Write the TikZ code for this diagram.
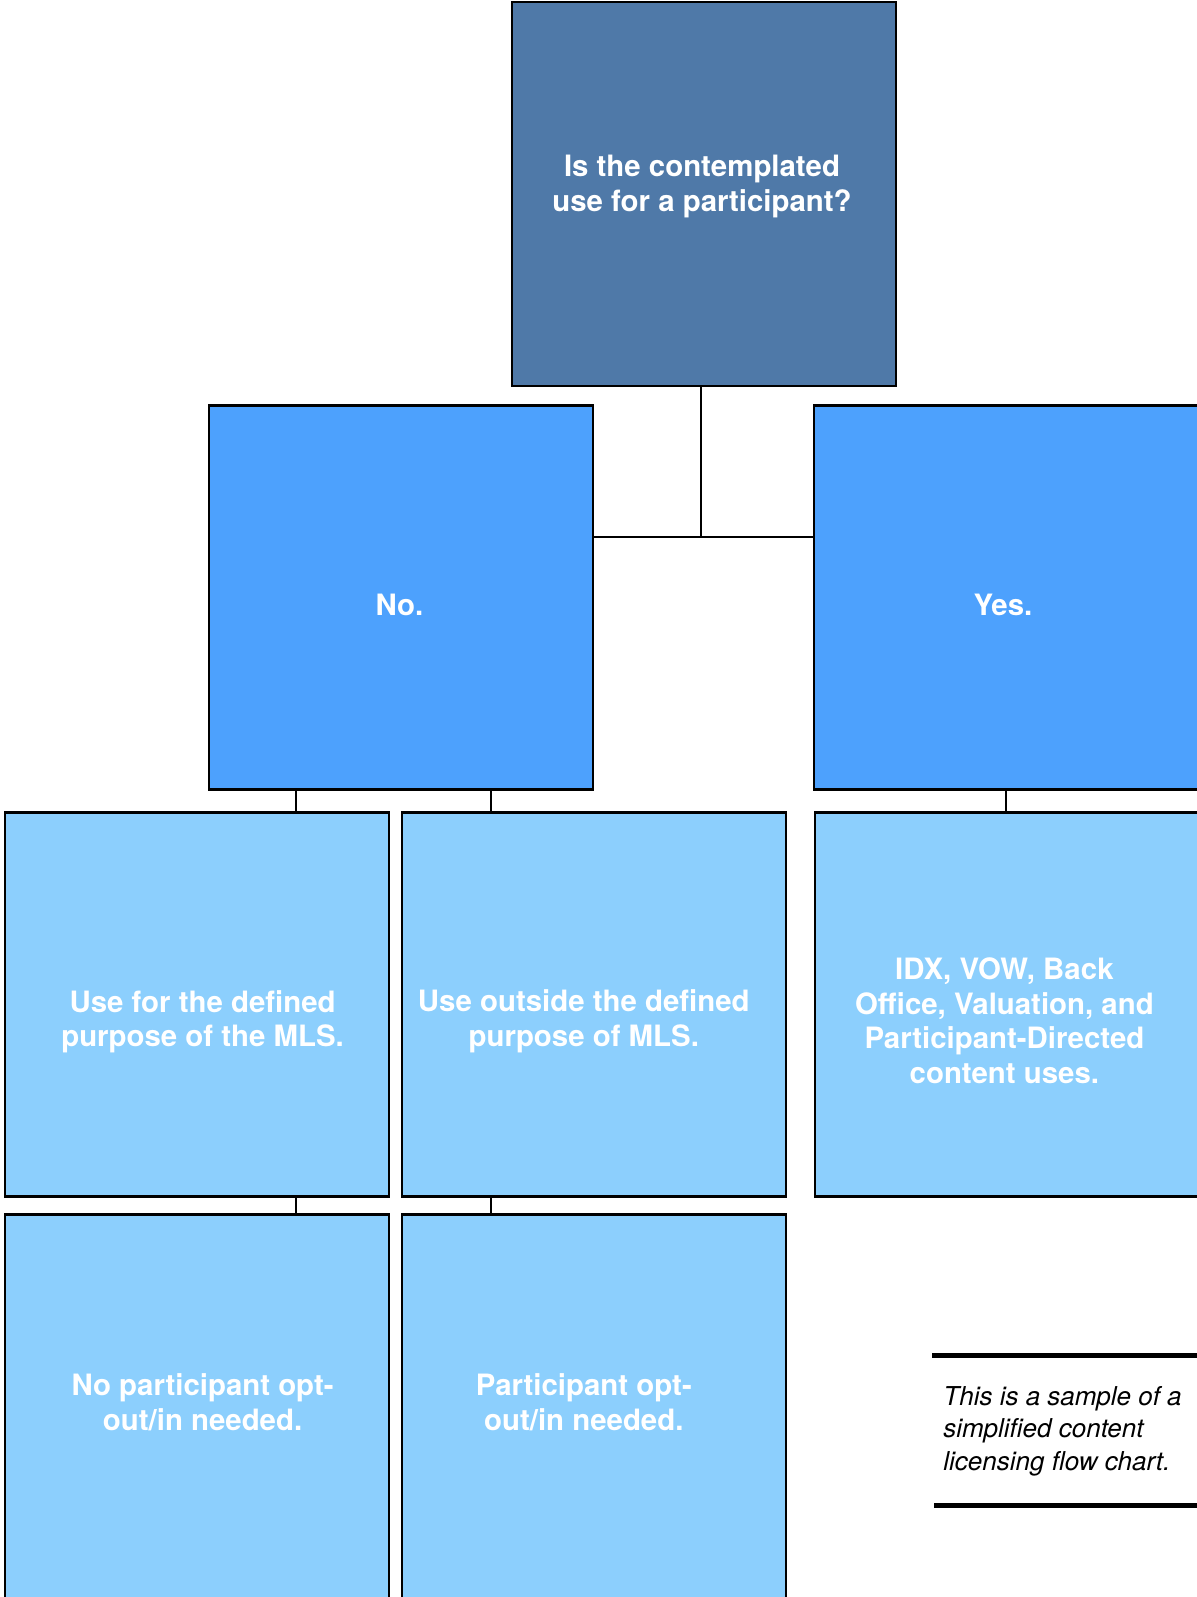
\documentclass[tikz,border=0pt]{standalone}
\usepackage{fontspec}
\setmainfont{TeX Gyre Heros}
\usepackage{tikz}
\usetikzlibrary{positioning, calc}
\definecolor{QuestionBlue}{RGB}{79, 121, 168}
\definecolor{AnswerBlue}{RGB}{77, 161, 253}
\definecolor{CaseBlue}{RGB}{140, 207, 253}

\begin{document}
\begin{tikzpicture}[
    x=0.5pt, y=0.5pt,
    box/.style={rectangle, draw=black, line width=1.4pt, minimum width=192pt, minimum height=192pt, inner sep=0pt, outer sep=0pt},
    boxtext/.style={text=white, align=center, inner sep=0pt, font=\fontsize{14.7}{17.3}\selectfont\bfseries},
    question/.style={box, fill=QuestionBlue},
    answer/.style={box, fill=AnswerBlue},
    case/.style={box, fill=CaseBlue},
    link/.style={line width=1.3pt, color=black},
    notebar/.style={line width=2.5pt, color=black}
]
    \useasboundingbox (0,0) rectangle (1197,1597);
    \clip (0,0) rectangle (1197,1597);

    % Pregunta
    \node[question, label={[boxtext, xshift=-1pt, yshift=3.6pt]center:Is the contemplated\\ use for a participant?}] (question) at (704,1403) {};

    % Respuestas
    \node[answer, label={[boxtext, xshift=-0.8pt, yshift=-3.6pt]center:No.}] (no) at (401,999.5) {};
    \node[answer, right=110.5pt of no, label={[boxtext, xshift=-1.5pt, yshift=-3.6pt]center:Yes.}] (yes) {};

    % Usos
    \node[case, label={[boxtext, xshift=2.8pt, yshift=-8.7pt]center:Use for the defined\\ purpose of the MLS.}] (definedpurpose) at (197,592.5) {};
    \node[case, right=6.5pt of definedpurpose, label={[boxtext, xshift=-5.1pt, yshift=-8.4pt]center:Use outside the defined\\ purpose of MLS.}] (outsidepurpose) {};
    \node[case, right=14.5pt of outsidepurpose, label={[boxtext, xshift=-1.3pt, yshift=-8.2pt]center:{IDX, VOW, Back\\ Office, Valuation, and\\ Participant-Directed\\ content uses.}}] (idxvow) {};

    % Opt-out / opt-in
    \node[case, below=9pt of definedpurpose, label={[boxtext, xshift=2.8pt, yshift=2.1pt]center:No participant opt-\\ out/in needed.}] (noopt) {};
    \node[case, below=9pt of outsidepurpose, label={[boxtext, xshift=-5.1pt, yshift=2.1pt]center:Participant opt-\\ out/in needed.}] (optin) {};

    % Nota
    \node[anchor=west, inner sep=0pt, align=left, font=\fontsize{13}{16.25}\selectfont\itshape] (sample) at (943,166) {This is a sample of a\\ simplified content\\ licensing flow chart.};
    \draw[notebar] ([xshift=-5.5pt, yshift=37.5pt]sample.west) -- ++(140pt,0);
    \draw[notebar] ([xshift=-4.5pt, yshift=-37.5pt]sample.west) -- ++(140pt,0);

    % Conexiones
    \coordinate (stem) at ([xshift=-1.5pt]question.south);
    \coordinate (split) at ([yshift=-75.5pt]stem);
    \coordinate (leftcol) at ([xshift=-52.5pt]no.south);
    \coordinate (midcol) at ([xshift=45pt]no.south);
    \draw[link] (stem) -- (split);
    \draw[link] (no.east |- split) -- (yes.west |- split);
    \draw[link] (leftcol) -- (leftcol |- definedpurpose.north);
    \draw[link] (midcol) -- (midcol |- outsidepurpose.north);
    \draw[link] (yes.south) -- (yes.south |- idxvow.north);
    \draw[link] (leftcol |- definedpurpose.south) -- (leftcol |- noopt.north);
    \draw[link] (midcol |- outsidepurpose.south) -- (midcol |- optin.north);
\end{tikzpicture}
\end{document}
